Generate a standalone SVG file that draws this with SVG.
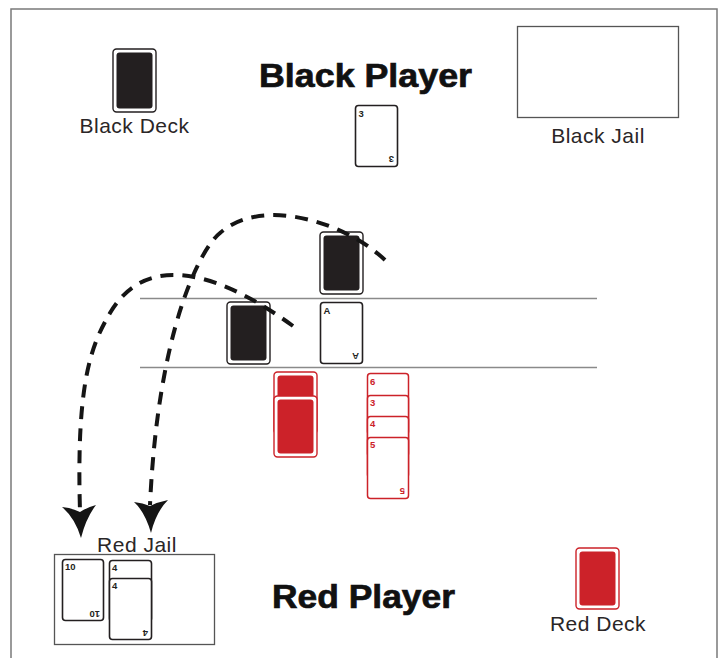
<svg xmlns="http://www.w3.org/2000/svg" width="720" height="658" viewBox="0 0 720 658">
  <style>
    .frame { fill: none; stroke: #7a7a7a; stroke-width: 1.5; }
    .jail { fill: #fff; stroke: #555; stroke-width: 1.3; }
    .rule { stroke: #8a8a8a; stroke-width: 1.6; }
    .label { font-family: "Liberation Sans", Arial, sans-serif; font-size: 21px; fill: #2a2627; }
    .title { font-family: "Liberation Sans", Arial, sans-serif; font-weight: bold; font-size: 33px; fill: #111; stroke: #111; stroke-width: 0.7; }
    .edge-b { fill: #fff; stroke: #231f20; stroke-width: 1.4; }
    .back-b { fill: #231f20; }
    .edge-r { fill: #fff; stroke: #cc2229; stroke-width: 1.4; }
    .back-r { fill: #cc2229; }
    .face-b { fill: #fff; stroke: #231f20; stroke-width: 1.6; }
    .face-r { fill: #fff; stroke: #cc2229; stroke-width: 1.5; }
    .pip { font-family: "Liberation Sans", Arial, sans-serif; font-weight: bold; font-size: 9.5px; }
    .pip-b { fill: #231f20; }
    .pip-r { fill: #cc2229; }
    .move { fill: none; stroke: #151515; stroke-width: 4; stroke-dasharray: 13 9; }
    .head { fill: #151515; }
  </style>

  <!-- table frame (open at the bottom) -->
  <path class="frame" d="M11 658 V9 H717 V658"/>

  <!-- play rows -->
  <g id="rows">
    <line class="rule" x1="140" y1="298.5" x2="597" y2="298.5"/>
    <line class="rule" x1="140" y1="367.5" x2="597" y2="367.5"/>
  </g>

  <g id="black-deck">
    <rect class="edge-b" x="113" y="49" width="43" height="63" rx="3.5"/>
    <rect class="back-b" x="116.5" y="52.5" width="36" height="56" rx="3"/>
    <text class="label" x="134.5" y="133" text-anchor="middle" letter-spacing="0.5">Black Deck</text>
  </g>

  <g id="black-player">
    <text class="title" x="365.5" y="87" text-anchor="middle" textLength="213" lengthAdjust="spacingAndGlyphs">Black Player</text>
  </g>

  <g id="black-card-3">
    <rect class="face-b" x="355.5" y="105.5" width="42" height="61" rx="3"/>
    <text class="pip pip-b" x="358.5" y="116.5">3</text>
    <text class="pip pip-b" x="394" y="156" transform="rotate(180 394 156)">3</text>
  </g>

  <g id="black-jail">
    <rect class="jail" x="517.5" y="26.5" width="161" height="91"/>
    <text class="label" x="598" y="143" text-anchor="middle" letter-spacing="0.5">Black Jail</text>
  </g>

  <g id="black-back-upper">
    <rect class="edge-b" x="320" y="232" width="43" height="62" rx="3.5"/>
    <rect class="back-b" x="323.5" y="235.5" width="36" height="55" rx="3"/>
  </g>

  <g id="black-back-lower">
    <rect class="edge-b" x="227" y="302" width="43" height="62" rx="3.5"/>
    <rect class="back-b" x="230.5" y="305.5" width="36" height="55" rx="3"/>
  </g>

  <g id="black-ace">
    <rect class="face-b" x="320.5" y="302.5" width="42" height="61" rx="3"/>
    <text class="pip pip-b" x="323.5" y="313.5">A</text>
    <text class="pip pip-b" x="359" y="353" transform="rotate(180 359 353)">A</text>
  </g>

  <g id="red-backs">
    <rect class="edge-r" x="274" y="372" width="43" height="62" rx="3.5"/>
    <rect class="back-r" x="277.5" y="375.5" width="36" height="55" rx="3"/>
    <rect class="edge-r" x="274" y="396" width="43" height="61" rx="3.5"/>
    <rect class="back-r" x="277.5" y="399.5" width="36" height="54" rx="3"/>
  </g>

  <g id="red-column">
    <rect class="face-r" x="367.5" y="373.5" width="41" height="61" rx="3"/>
    <text class="pip pip-r" x="370" y="384.5">6</text>
    <rect class="face-r" x="367.5" y="395.5" width="41" height="61" rx="3"/>
    <text class="pip pip-r" x="370" y="406">3</text>
    <rect class="face-r" x="367.5" y="416.5" width="41" height="61" rx="3"/>
    <text class="pip pip-r" x="370" y="427">4</text>
    <rect class="face-r" x="367.5" y="437.5" width="41" height="61" rx="3"/>
    <text class="pip pip-r" x="370" y="448">5</text>
    <text class="pip pip-r" x="405" y="488" transform="rotate(180 405 488)">5</text>
  </g>

  <g id="red-jail">
    <text class="label" x="137" y="552" text-anchor="middle" letter-spacing="0.5">Red Jail</text>
    <rect class="jail" x="54.5" y="554.5" width="160" height="90"/>
    <rect class="face-b" x="62.5" y="559.5" width="41" height="61" rx="3"/>
    <text class="pip pip-b" x="65" y="570">10</text>
    <text class="pip pip-b" x="100" y="611" transform="rotate(180 100 611)">10</text>
    <rect class="face-b" x="109.5" y="560.5" width="42" height="61" rx="3"/>
    <text class="pip pip-b" x="112" y="571">4</text>
    <rect class="face-b" x="109.5" y="578.5" width="42" height="61" rx="3"/>
    <text class="pip pip-b" x="112" y="589">4</text>
    <text class="pip pip-b" x="148" y="630" transform="rotate(180 148 630)">4</text>
  </g>

  <g id="red-player">
    <text class="title" x="363.5" y="608" text-anchor="middle" textLength="183" lengthAdjust="spacingAndGlyphs">Red Player</text>
  </g>

  <g id="red-deck">
    <rect class="edge-r" x="576" y="548" width="43" height="61" rx="3.5"/>
    <rect class="back-r" x="579.5" y="551.5" width="36" height="54" rx="3"/>
    <text class="label" x="598" y="631" text-anchor="middle" letter-spacing="0.5">Red Deck</text>
  </g>

  <!-- capture moves into the red jail -->
  <g id="connectors">
    <path class="move" d="M385 260 C345 222 262 196 220 233 C200 249 158 330 150 505"/>
    <path class="move" d="M293 326 C230 280 150 245 110 313 C92 344 76 380 80 511"/>
    <path class="head" d="M151 533 Q145 512 134 502 Q143 503 150 506 Q158 502 168 500 Q156 512 151 533 Z"/>
    <path class="head" d="M81 538 Q75 518 62 507 Q72 508 80 512 Q88 507 96 505 Q86 518 81 538 Z"/>
  </g>
</svg>
